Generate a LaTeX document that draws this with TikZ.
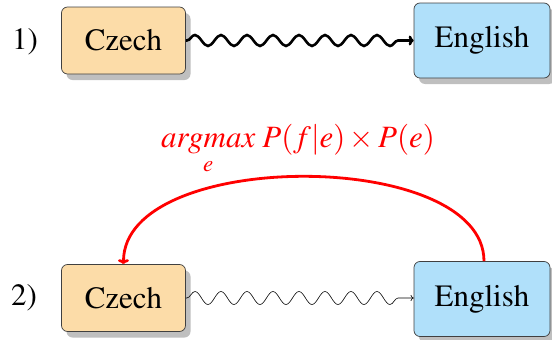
\documentclass[tikz,border=0pt]{standalone}
\usepackage{amsmath}
\usepackage[T1]{fontenc}
\usepackage{mathptmx}
\usetikzlibrary{shadows,decorations.pathmorphing,arrows.meta}
\definecolor{czfill}{RGB}{252,220,168}
\definecolor{enfill}{RGB}{176,224,250}
\begin{document}
\begin{tikzpicture}[x=1pt,y=-1pt,
  font=\fontsize{31}{36}\selectfont,
  box/.style={draw=black!75, line width=0.7pt, rounded corners=6pt,
    drop shadow={shadow xshift=5pt, shadow yshift=-6pt, fill=black!25, opacity=1},
    inner sep=0pt},
  czbox/.style={box, fill=czfill, minimum width=124pt, minimum height=67pt},
  enbox/.style={box, fill=enfill, minimum width=136pt, minimum height=75pt},
  num/.style={inner sep=0pt},
  wavethick/.style={line width=2.6pt, -{To[length=5pt,width=10pt]},
    decorate, decoration={snake, segment length=26pt, amplitude=5.5pt, pre length=1pt, post length=6pt}},
  wavethin/.style={line width=0.6pt, -{To[length=3pt,width=6pt]},
    decorate, decoration={snake, segment length=26pt, amplitude=6.5pt, pre length=1pt, post length=8pt}},
  redarc/.style={red, line width=2.8pt, -{To[length=5pt,width=11pt]}}]
\useasboundingbox (0,0) rectangle (552,340);
\node[num] (n1) at (25,42) {1)};
\node[num] (n2) at (24,298) {2)};
\node[czbox] (cz1) at (123.5,40.5) {Czech};
\node[enbox] (en1) at (482,40.5) {English};
\node[czbox] (cz2) at (123.5,298) {Czech};
\node[enbox] (en2) at (482,299) {English};
\draw[wavethick] (cz1.east) -- (en1.west);
\draw[wavethin] (cz2.east) -- (en2.west |- cz2.east);
\coordinate (rs) at (484,262);
\draw[redarc] (en2.north -| rs) .. controls (484,148) and (123,148) .. (cz2.north);
\node[red, anchor=base] (lbl) at (298,147)
  {$\displaystyle\mathop{argmax}\limits_{e}\,P(f|e)\times P(e)$};
\end{tikzpicture}
\end{document}
